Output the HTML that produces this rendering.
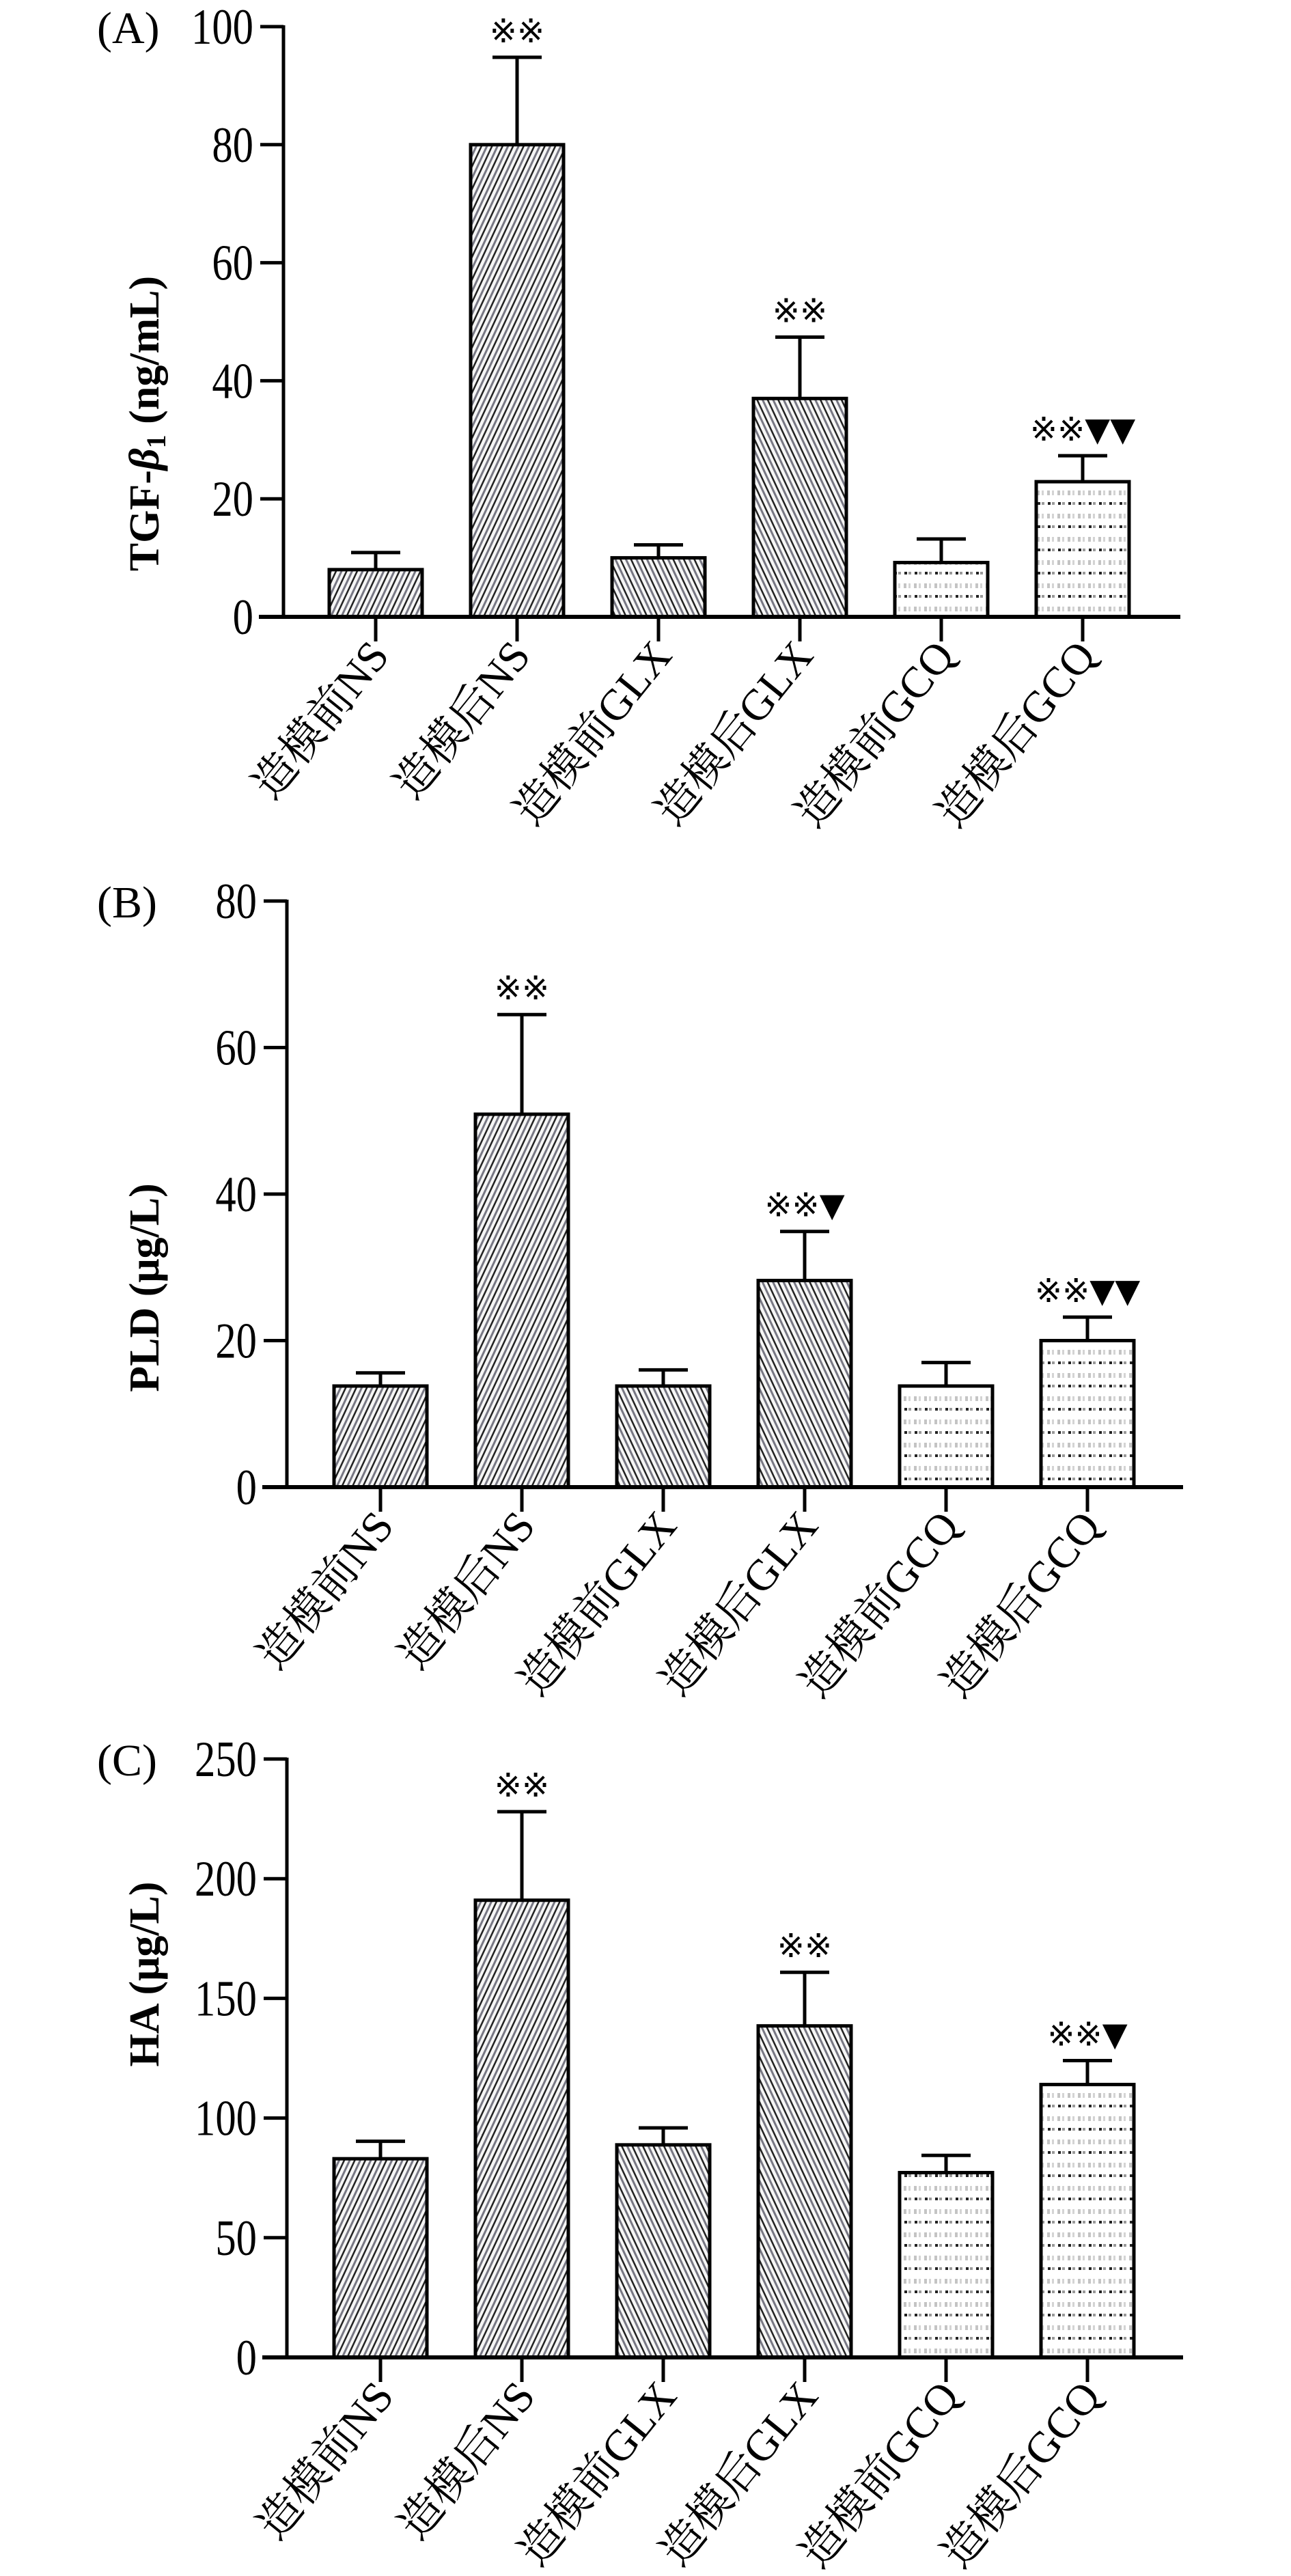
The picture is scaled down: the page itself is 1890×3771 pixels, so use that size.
<!DOCTYPE html>
<html>
<head>
<meta charset="utf-8">
<style>
html,body{margin:0;padding:0;background:#fff;}
svg{display:block;}
text{font-family:"Liberation Serif","Noto Serif CJK SC","Noto Sans CJK SC",serif;fill:#000;}
</style>
</head>
<body>
<svg id="fig" width="1890" height="3771" viewBox="0 0 1890 3771" xmlns="http://www.w3.org/2000/svg">
<defs>
  <pattern id="stripeF" patternUnits="userSpaceOnUse" width="14" height="14" patternTransform="rotate(25)">
    <rect width="14" height="14" fill="#f6f6f6"/>
    <rect x="0" y="0" width="2.5" height="14" fill="#222"/>
    <rect x="7" y="0" width="3" height="14" fill="#777783"/>
  </pattern>
  <pattern id="stripeB" patternUnits="userSpaceOnUse" width="14" height="14" patternTransform="rotate(-25)">
    <rect width="14" height="14" fill="#f6f6f6"/>
    <rect x="0" y="0" width="2.5" height="14" fill="#222"/>
    <rect x="7" y="0" width="3" height="14" fill="#777783"/>
  </pattern>
  <pattern id="dots" patternUnits="userSpaceOnUse" width="15" height="34">
    <rect width="15" height="34" fill="#fff"/>
    <rect x="3" y="4" width="4" height="7" fill="#c4c4c4"/>
    <rect x="10" y="4" width="3" height="7" fill="#d4d4d4"/>
    <rect x="4" y="21" width="4" height="4" fill="#222"/>
    <rect x="10" y="21" width="4" height="4" fill="#999"/>
  </pattern>
</defs>
</svg>
<script>
// Shared categories
const categories = ["造模前NS","造模后NS","造模前GLX","造模后GLX","造模前GCQ","造模后GCQ"];
// Panel A: TGF-β1
const valuesA = [8.0, 80.0, 10.0, 37.0, 9.2, 22.9];
const errTopA = [10.9, 94.8, 12.2, 47.4, 13.2, 27.3];
const ticksA = [0, 20, 40, 60, 80, 100];
const marksA = ["", "※※", "", "※※", "", "※※▼▼"];
// Panel B: PLD
const valuesB = [13.8, 50.9, 13.8, 28.2, 13.8, 20.0];
const errTopB = [15.6, 64.5, 16.0, 34.9, 17.0, 23.2];
const ticksB = [0, 20, 40, 60, 80];
const marksB = ["", "※※", "", "※※▼", "", "※※▼▼"];
// Panel C: HA
const valuesC = [83.0, 191.0, 88.8, 138.5, 77.2, 114.0];
const errTopC = [90.3, 228.0, 95.9, 160.9, 84.4, 124.0];
const ticksC = [0, 50, 100, 150, 200, 250];
const marksC = ["", "※※", "", "※※", "", "※※▼"];

const fills = ["url(#stripeF)","url(#stripeF)","url(#stripeB)","url(#stripeB)","url(#dots)","url(#dots)"];
const NS = "http://www.w3.org/2000/svg";
const svg = document.getElementById("fig");

function mk(tag, attrs, parent){
  const e = document.createElementNS(NS, tag);
  for (const k in attrs) e.setAttribute(k, attrs[k]);
  (parent||svg).appendChild(e);
  return e;
}

function panel(cfg){
  const g = mk("g", {});
  
  
  const ymax = cfg.ticks[cfg.ticks.length-1];
  const yScale = v => cfg.y0 - (v/ymax)*(cfg.y0 - cfg.yTop);
  const xScale = i => cfg.c0 + i*207;

  const pl = mk("text", {x: 142, y: cfg.yTop + 24, "font-size": 66}, g);
  pl.textContent = cfg.label;
  
  

  const yt = mk("text", {x: 0, y: 0, "font-size": 62, "font-weight": "bold", "text-anchor": "middle",
    transform: `translate(${cfg.titleX},${cfg.titleY}) rotate(-90)`}, g);
  yt.innerHTML = cfg.title;
  
  

  const ya = mk("line", {x1: cfg.x0, y1: cfg.yTop-2, x2: cfg.x0, y2: cfg.y0, stroke: "#000", "stroke-width": 5}, g);
  
  
  cfg.ticks.forEach(t => {
    const y = yScale(t);
    const tk = mk("line", {x1: cfg.x0-34, y1: y, x2: cfg.x0, y2: y, stroke: "#000", "stroke-width": 5}, g);
    
    
    const tl = mk("text", {x: cfg.x0-44, y: y+25, "font-size": 74, "text-anchor": "end",
      transform: `translate(${cfg.x0-44},0) scale(0.82,1) translate(${-(cfg.x0-44)},0)`}, g);
    tl.textContent = t;
    
    
  });

  cfg.values.forEach((v, i) => {
    const cx = xScale(i), w = 136;
    const top = yScale(v), capY = yScale(cfg.err[i]);
    const eb = mk("line", {x1: cx, y1: capY, x2: cx, y2: top, stroke: "#000", "stroke-width": 5}, g);
    
    
    const cap = mk("line", {x1: cx-36, y1: capY, x2: cx+36, y2: capY, stroke: "#000", "stroke-width": 5}, g);
    
    
    const r = mk("rect", {x: cx-w/2, y: top, width: w, height: cfg.y0-top, fill: fills[i], stroke: "#000", "stroke-width": 5}, g);
    
    
    if (cfg.marks[i]) {
      const m = mk("text", {x: cx, y: capY-22, "font-size": 48, "text-anchor": "middle",
        style: 'font-family:"DejaVu Sans","Noto Sans CJK SC",sans-serif'}, g);
      m.textContent = cfg.marks[i];
      
      
    }
    const xt = mk("line", {x1: cx, y1: cfg.y0, x2: cx, y2: cfg.y0+36, stroke: "#000", "stroke-width": 5}, g);
    
    
    const xl = mk("text", {x: 0, y: 0, "font-size": 64, "text-anchor": "end",
      transform: `translate(${cx+22},${cfg.y0+58}) rotate(-51)`}, g);
    xl.textContent = categories[i];
    
    
  });

  const xa = mk("line", {x1: cfg.x0-36, y1: cfg.y0, x2: cfg.xEnd, y2: cfg.y0, stroke: "#000", "stroke-width": 6}, g);
  
  
}

panel({key:"tgf", label:"(A)", title:'TGF-<tspan font-style="italic">β</tspan><tspan font-size="40" dy="10">1</tspan><tspan dy="-10"> (ng/mL)</tspan>',
  values: valuesA, err: errTopA, ticks: ticksA, marks: marksA,
  x0: 415, y0: 903, yTop: 39, xEnd: 1728, c0: 550, titleX: 232, titleY: 620});
panel({key:"pld", label:"(B)", title:'PLD (μg/L)',
  values: valuesB, err: errTopB, ticks: ticksB, marks: marksB,
  x0: 420, y0: 2177, yTop: 1319, xEnd: 1732, c0: 557, titleX: 232, titleY: 1885});
panel({key:"ha", label:"(C)", title:'HA (μg/L)',
  values: valuesC, err: errTopC, ticks: ticksC, marks: marksC,
  x0: 420, y0: 3451, yTop: 2575, xEnd: 1732, c0: 557, titleX: 232, titleY: 2890});
</script>
</body>
</html>
